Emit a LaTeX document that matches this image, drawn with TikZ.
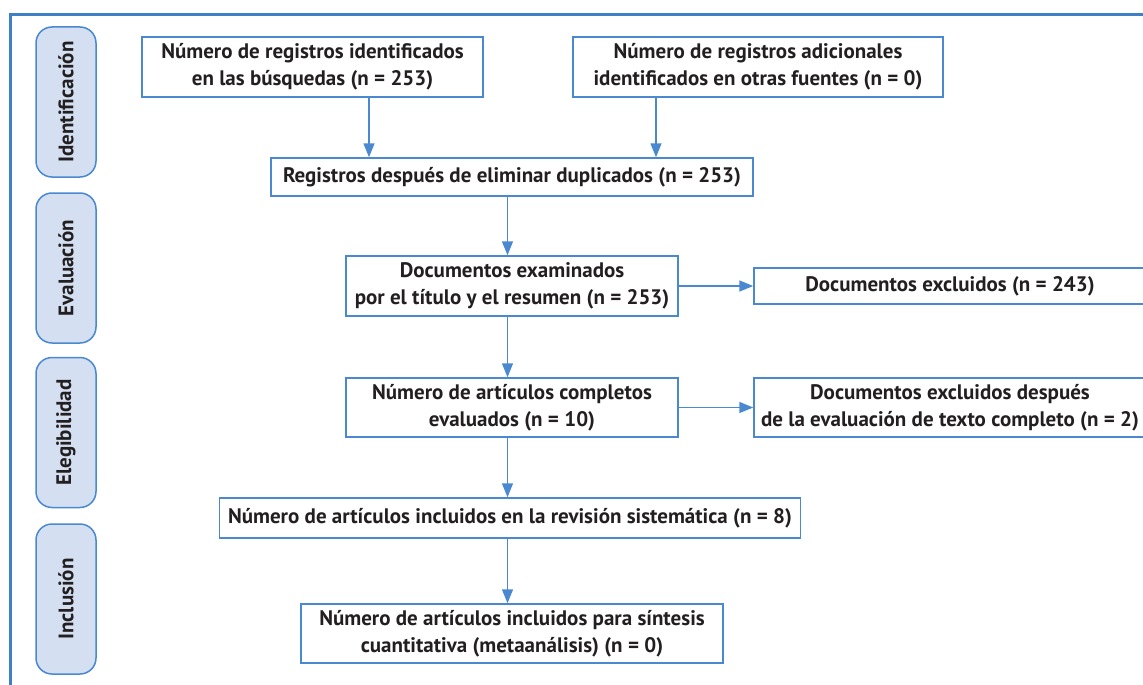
\documentclass[tikz,border=0pt]{standalone}
\usepackage{fontspec}
\setmainfont{PT Sans}
\usetikzlibrary{arrows.meta,positioning}
\definecolor{azul}{HTML}{4A89CF}
\definecolor{azulmarco}{HTML}{3F7FC4}
\definecolor{azulfondo}{HTML}{D4E0F1}
\definecolor{tinta}{HTML}{231F20}
\tikzset{>={Triangle[length=14pt,width=11pt]},
  caja/.style={draw=azul,line width=1.5pt,align=center,inner sep=0pt,text=tinta,
    font=\fontsize{21}{27}\selectfont\bfseries},
  fase/.style={draw=azul,fill=azulfondo,line width=1.5pt,rounded corners=16pt,rotate=90,
    minimum width=150pt,minimum height=60pt,text=tinta,font=\fontsize{21}{24}\selectfont\bfseries},
  flecha/.style={->,draw=azul,line width=1.5pt}}

\begin{document}
\begin{tikzpicture}[x=1pt,y=-1pt]
    \clip (0,0) rectangle (1143,685);
    \draw[azulmarco,line width=2.5pt] (10.5,700) -- (10.5,14.5) -- (1160,14.5);
    \node[fase] (ident) at (66,102) {Identificación};
    \node[fase] (eval) at (66,268) {Evaluación};
    \node[fase] (eleg) at (66,432.5) {Elegibilidad};
    \node[fase] (incl) at (66,599) {Inclusión};
    \node[caja,minimum width=341pt,minimum height=60pt] (busq) at (312.5,67)
        {Número de registros identificados\\en las búsquedas (n = 253)};
    \node[caja,minimum width=370pt,minimum height=60pt] (adic) at (758,67)
        {Número de registros adicionales\\identificados en otras fuentes (n = 0)};
    \node[caja,minimum width=482pt,minimum height=38pt] (dupl) at (512,177)
        {Registros después de eliminar duplicados (n = 253)};
    \node[caja,minimum width=332pt,minimum height=60pt] (exam) at (512,286)
        {Documentos examinados\\por el título y el resumen (n = 253)};
    \node[caja,minimum width=392pt,minimum height=36pt] (exclA) at (950,286)
        {Documentos excluidos (n = 243)};
    \node[caja,minimum width=332pt,minimum height=59pt] (compl) at (512,407.5)
        {Número de artículos completos\\evaluados (n = 10)};
    \node[caja,minimum width=392pt,minimum height=59pt] (exclB) at (950,407.5)
        {Documentos excluidos después\\de la evaluación de texto completo (n = 2)};
    \node[caja,minimum width=581pt,minimum height=40pt] (revis) at (510,518)
        {Número de artículos incluidos en la revisión sistemática (n = 8)};
    \node[caja,minimum width=422pt,minimum height=59pt] (meta) at (512,633.5)
        {Número de artículos incluidos para síntesis\\cuantitativa (metaanálisis) (n = 0)};
    \coordinate (eje) at (507.5,0);
    \draw[flecha] ([xshift=56.5pt]busq.south) -- ([xshift=56.5pt]busq.south |- dupl.north);
    \draw[flecha] ([xshift=-102pt]adic.south) -- ([xshift=-102pt]adic.south |- dupl.north);
    \draw[flecha] (dupl.south -| eje) -- (exam.north -| eje);
    \draw[flecha] (exam.east) -- (exclA.west);
    \draw[flecha] (exam.south -| eje) -- (compl.north -| eje);
    \draw[flecha] (compl.east) -- (exclB.west);
    \draw[flecha] (compl.south -| eje) -- (revis.north -| eje);
    \draw[flecha] (revis.south -| eje) -- (meta.north -| eje);
\end{tikzpicture}
\end{document}
